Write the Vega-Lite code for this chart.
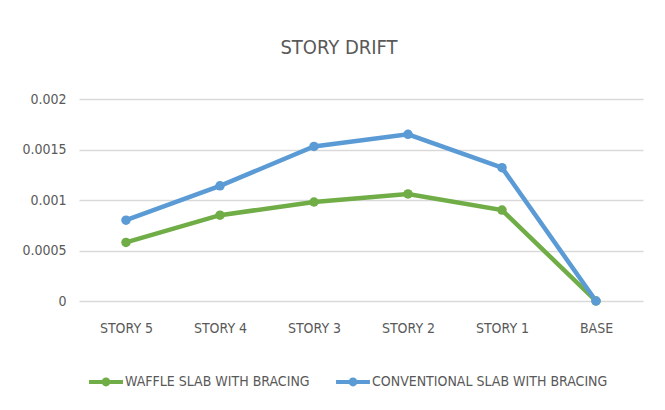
{
  "$schema": "https://vega.github.io/schema/vega-lite/v6.json",
  "autosize": {"type": "none"},
  "width": 564,
  "height": 202,
  "padding": {"left": 79, "top": 99, "right": 22, "bottom": 109},
  "background": "white",
  "title": {
    "text": "STORY DRIFT",
    "fontSize": 20,
    "font": "Liberation Sans Narrow, DejaVu Sans Condensed, sans-serif",
    "fontWeight": "normal",
    "color": "#595959",
    "anchor": "middle",
    "dx": -22,
    "offset": 34
  },
  "data": {
    "values": [
      {"story": "STORY 5", "series": "WAFFLE SLAB WITH BRACING", "drift": 0.00058},
      {"story": "STORY 4", "series": "WAFFLE SLAB WITH BRACING", "drift": 0.00085},
      {"story": "STORY 3", "series": "WAFFLE SLAB WITH BRACING", "drift": 0.00098},
      {"story": "STORY 2", "series": "WAFFLE SLAB WITH BRACING", "drift": 0.00106},
      {"story": "STORY 1", "series": "WAFFLE SLAB WITH BRACING", "drift": 0.0009},
      {"story": "BASE", "series": "WAFFLE SLAB WITH BRACING", "drift": 0},
      {"story": "STORY 5", "series": "CONVENTIONAL SLAB WITH BRACING", "drift": 0.0008},
      {"story": "STORY 4", "series": "CONVENTIONAL SLAB WITH BRACING", "drift": 0.00114},
      {"story": "STORY 3", "series": "CONVENTIONAL SLAB WITH BRACING", "drift": 0.00153},
      {"story": "STORY 2", "series": "CONVENTIONAL SLAB WITH BRACING", "drift": 0.00165},
      {"story": "STORY 1", "series": "CONVENTIONAL SLAB WITH BRACING", "drift": 0.00132},
      {"story": "BASE", "series": "CONVENTIONAL SLAB WITH BRACING", "drift": 0}
    ]
  },
  "mark": {
    "type": "line",
    "strokeWidth": 4.5,
    "point": {"size": 90, "filled": true, "opacity": 1}
  },
  "encoding": {
    "x": {
      "field": "story",
      "type": "nominal",
      "sort": ["STORY 5", "STORY 4", "STORY 3", "STORY 2", "STORY 1", "BASE"],
      "scale": {"type": "point", "padding": 0.5},
      "axis": {
        "title": null,
        "labelAngle": 0,
        "domain": false,
        "ticks": false,
        "grid": false,
        "labelPadding": 20,
        "labelFontSize": 14,
        "labelColor": "#595959",
        "labelFont": "Liberation Sans Narrow, DejaVu Sans Condensed, sans-serif"
      }
    },
    "y": {
      "field": "drift",
      "type": "quantitative",
      "scale": {"domain": [0, 0.002]},
      "axis": {
        "title": null,
        "values": [0, 0.0005, 0.001, 0.0015, 0.002],
        "format": "~g",
        "domain": false,
        "ticks": false,
        "grid": true,
        "gridColor": "#d9d9d9",
        "gridWidth": 1.5,
        "labelPadding": 13,
        "labelFontSize": 14,
        "labelColor": "#595959",
        "labelFont": "Liberation Sans Narrow, DejaVu Sans Condensed, sans-serif"
      }
    },
    "color": {
      "field": "series",
      "type": "nominal",
      "scale": {
        "domain": ["WAFFLE SLAB WITH BRACING", "CONVENTIONAL SLAB WITH BRACING"],
        "range": ["#70ad47", "#5b9bd5"]
      },
      "legend": {
        "title": null,
        "orient": "none",
        "direction": "horizontal",
        "legendX": 10,
        "legendY": 266,
        "columnPadding": 26,
        "labelLimit": 400,
        "labelFontSize": 14,
        "labelColor": "#595959",
        "labelFont": "Liberation Sans Narrow, DejaVu Sans Condensed, sans-serif",
        "labelOffset": 2,
        "symbolType": "M-1,-0.12L1,-0.12L1,0.12L-1,0.12Z M-0.26,0A0.26,0.26 0 1,1 0.26,0A0.26,0.26 0 1,1 -0.26,0Z",
        "symbolSize": 1150,
        "symbolStrokeWidth": 0,
        "encode": {
          "symbols": {
            "update": {
              "fill": {"scale": "color", "field": "value"},
              "strokeWidth": {"value": 0},
              "opacity": {"value": 1}
            }
          }
        }
      }
    }
  },
  "config": {
    "view": {"stroke": null}
  }
}
